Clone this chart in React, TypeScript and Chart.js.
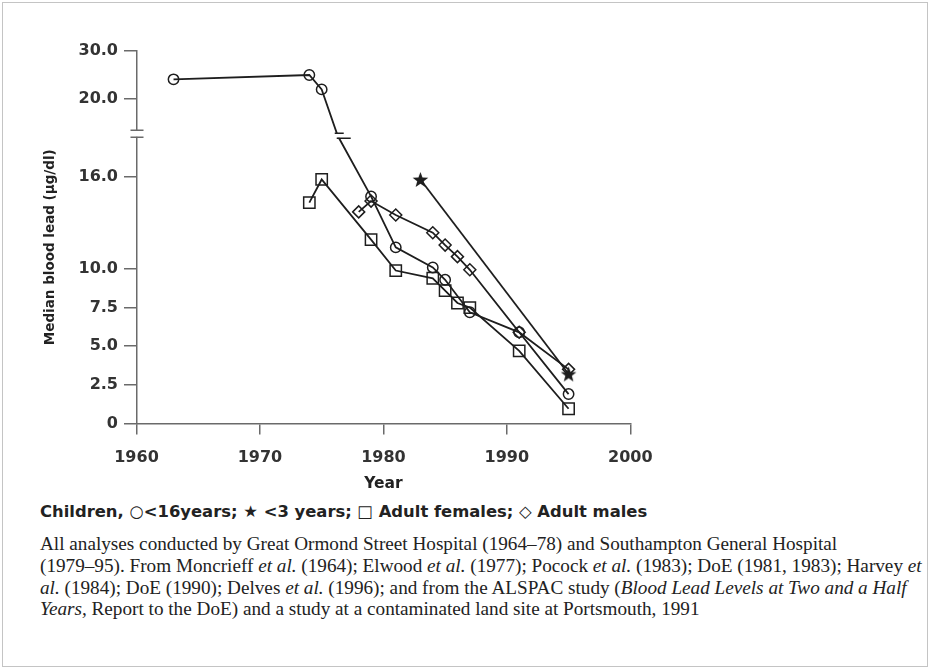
import React, { useEffect, useRef } from "react";
import { Chart, registerables } from "chart.js";

Chart.register(...registerables);

// ---- data (years, median blood lead µg/dl) ----
const childYears = [1963, 1974, 1975, 1979, 1981, 1984, 1985, 1987, 1991, 1995];
const childLevels = [24.1, 25.0, 22.0, 14.7, 11.4, 10.1, 9.3, 7.2, 5.9, 1.9];
const infantYears = [1983, 1995];
const infantLevels = [15.8, 3.2];
const femaleYears = [1974, 1975, 1979, 1981, 1984, 1985, 1986, 1987, 1991, 1995];
const femaleLevels = [14.3, 15.8, 11.9, 9.9, 9.4, 8.6, 7.8, 7.5, 4.7, 0.95];
const maleYears = [1978, 1979, 1981, 1984, 1985, 1986, 1987, 1991, 1995];
const maleLevels = [13.7, 14.4, 13.5, 12.35, 11.55, 10.8, 9.95, 5.9, 3.5];

const yTickValues = [0, 2.5, 5, 7.5, 10, 16, 20, 30];
const yTickLabels = ["0", "2.5", "5.0", "7.5", "10.0", "16.0", "20.0", "30.0"];
const xMin = 1960;
const xMax = 2000;
const xStep = 10;
const childBreakYear = 1976.3;
const yTitle = "Median blood lead (µg/dl)";

// ---- broken y axis mapping (lower part linear, upper part compressed) ----
const LOWER_LIMIT = 18;
const UPPER_ORIGIN = 20;
const UPPER_ORIGIN_POS = 21.01;
const UPPER_RATIO = 0.311;
const AXIS_BREAK_POS = 18.76;
const LINE_BREAK_POS = 18.63;

function toDisplay(v: number) {
  return v <= LOWER_LIMIT ? v : UPPER_ORIGIN_POS + (v - UPPER_ORIGIN) * UPPER_RATIO;
}

const LINE = "#1e1e1e";
const AXIS = "#6a6a6a";
const TICK_FONT = { family: "DejaVu Sans", size: 16, weight: "bold" as const };

function pts(xs: number[], ys: number[]) {
  return xs.map((x, i) => ({ x, y: toDisplay(ys[i]) }));
}

function makeStar(size: number, color: string) {
  const c = document.createElement("canvas");
  c.width = size;
  c.height = size;
  const ctx = c.getContext("2d")!;
  const cx = size / 2;
  const cy = size / 2 + 0.8;
  const R = size / 2 - 0.3;
  const r = R * 0.42;
  ctx.beginPath();
  for (let i = 0; i < 10; i++) {
    const a = -Math.PI / 2 + (i * Math.PI) / 5;
    const rr = i % 2 === 0 ? R : r;
    ctx.lineTo(cx + rr * Math.cos(a), cy + rr * Math.sin(a));
  }
  ctx.closePath();
  ctx.fillStyle = color;
  ctx.fill();
  return c;
}

export default function App() {
  const ref = useRef<HTMLCanvasElement | null>(null);

  useEffect(() => {
    if (!ref.current) return;

    // children series with the break vertex inserted
    const childPts: { x: number; y: number }[] = [];
    const childRadius: number[] = [];
    let breakIndex = -1;
    childYears.forEach((yr, i) => {
      const v = childLevels[i];
      if (i > 0 && childLevels[i - 1] > LOWER_LIMIT && v <= LOWER_LIMIT) {
        breakIndex = childPts.length;
        childPts.push({ x: childBreakYear, y: LINE_BREAK_POS });
        childRadius.push(0);
      }
      childPts.push({ x: yr, y: toDisplay(v) });
      childRadius.push(5.2);
    });

    const star = makeStar(17, LINE);

    const breakPlugin = {
      id: "axisBreaks",
      afterDraw(chart: any) {
        const { ctx, chartArea, scales } = chart;
        const ax = chartArea.left;
        const ay = scales.y.getPixelForValue(AXIS_BREAK_POS);
        ctx.save();
        ctx.fillStyle = "#fff";
        ctx.fillRect(ax - 3, ay - 3, 6, 6);
        ctx.strokeStyle = AXIS;
        ctx.lineWidth = 1.5;
        ctx.beginPath();
        ctx.moveTo(ax - 6, ay - 3.5);
        ctx.lineTo(ax + 7, ay - 3.5);
        ctx.moveTo(ax - 6, ay + 3.5);
        ctx.lineTo(ax + 7, ay + 3.5);
        ctx.stroke();
        if (breakIndex >= 0) {
          const el = chart.getDatasetMeta(0).data[breakIndex];
          const lx = el.x;
          const ly = el.y;
          ctx.fillRect(lx - 5, ly - 2, 10, 4);
          ctx.strokeStyle = LINE;
          ctx.beginPath();
          ctx.moveTo(lx - 3, ly - 2.5);
          ctx.lineTo(lx + 6, ly - 2.5);
          ctx.moveTo(lx - 1, ly + 2.5);
          ctx.lineTo(lx + 13, ly + 2.5);
          ctx.stroke();
        }
        // y axis title
        const cy = (scales.y.getPixelForValue(0) + scales.y.getPixelForValue(toDisplay(30))) / 2 + 10;
        ctx.translate(50, cy);
        ctx.rotate(-Math.PI / 2);
        ctx.fillStyle = "#222";
        ctx.font = "bold 13.5px 'DejaVu Sans'";
        ctx.textAlign = "center";
        ctx.textBaseline = "middle";
        ctx.fillText(yTitle, 0, 0);
        ctx.restore();
      },
    };

    const common = {
      borderColor: LINE,
      borderWidth: 1.8,
      pointBorderColor: LINE,
      pointBackgroundColor: "rgba(0,0,0,0)",
      pointBorderWidth: 1.5,
      tension: 0,
      fill: false,
    };

    const chart = new Chart(ref.current, {
      type: "line",
      data: {
        datasets: [
          {
            ...common,
            label: "<16 years",
            data: childPts,
            pointStyle: "circle",
            pointRadius: childRadius,
          },
          {
            ...common,
            label: "<3 years",
            data: pts(infantYears, infantLevels),
            pointStyle: star as any,
            pointRadius: 8,
          },
          {
            ...common,
            label: "Adult females",
            data: pts(femaleYears, femaleLevels),
            pointStyle: "rect",
            pointRadius: 8,
          },
          {
            ...common,
            label: "Adult males",
            data: pts(maleYears, maleLevels),
            pointStyle: "rectRot",
            pointRadius: 6,
          },
        ],
      },
      options: {
        responsive: false,
        animation: false,
        layout: { padding: { left: 0, top: 51, right: 301.7, bottom: 0 } },
        plugins: { legend: { display: false }, tooltip: { enabled: false } },
        scales: {
          x: {
            type: "linear",
            min: xMin,
            max: xMax,
            afterFit: (s: any) => {
              s.height = 76.6;
            },
            ticks: {
              stepSize: xStep,
              font: TICK_FONT,
              color: "#333",
              padding: 14,
              callback: (v: any) => String(v),
            },
            grid: {
              drawOnChartArea: false,
              drawTicks: true,
              tickLength: 11,
              color: AXIS,
              lineWidth: 1.5,
            },
            border: { display: true, color: AXIS, width: 1.5 },
            title: {
              display: true,
              text: "Year",
              font: { family: "DejaVu Sans", size: 15.5, weight: "bold" },
              color: "#222",
              padding: { top: 0, bottom: 7 },
            },
          },
          y: {
            type: "linear",
            min: 0,
            max: toDisplay(30),
            afterFit: (s: any) => {
              s.width = 136.5;
            },
            afterBuildTicks: (s: any) => {
              s.ticks = yTickValues.map((v) => ({ value: toDisplay(v) }));
            },
            ticks: {
              autoSkip: false,
              font: TICK_FONT,
              color: "#333",
              padding: 6,
              callback: (_v: any, i: number) => yTickLabels[i],
            },
            grid: {
              drawOnChartArea: false,
              drawTicks: true,
              tickLength: 12.5,
              color: AXIS,
              lineWidth: 1.5,
            },
            border: { display: true, color: AXIS, width: 1.5 },
            title: { display: false },
          },
        },
      },
      plugins: [breakPlugin],
    });

    return () => chart.destroy();
  }, []);

  return (
    <div
      style={{
        position: "absolute",
        left: 0,
        top: 0,
        width: 932,
        height: 671,
        background: "#fff",
        overflow: "hidden",
      }}
    >
      <div
        style={{
          position: "absolute",
          left: 2,
          top: 2,
          width: 924,
          height: 663,
          border: "1px solid #c4c4c4",
        }}
      />
      <canvas
        ref={ref}
        width={932}
        height={500}
        style={{ position: "absolute", left: 0, top: 0, display: "block" }}
      />
      <div
        style={{
          position: "absolute",
          left: 40,
          top: 502,
          font: "bold 16.4px 'DejaVu Sans'",
          color: "#222",
          whiteSpace: "nowrap",
        }}
      >
        Children, ○&lt;16years; ★ &lt;3 years; □ Adult females; ◇ Adult males
      </div>
      <div
        style={{
          position: "absolute",
          left: 40,
          top: 533,
          font: "19.2px 'Liberation Serif'",
          lineHeight: "21.8px",
          color: "#222",
          whiteSpace: "nowrap",
        }}
      >
        All analyses conducted by Great Ormond Street Hospital (1964–78) and Southampton General Hospital
        <br />
        (1979–95). From Moncrieff <i>et al.</i> (1964); Elwood <i>et al.</i> (1977); Pocock <i>et al.</i> (1983); DoE
        (1981, 1983); Harvey <i>et</i>
        <br />
        <i>al.</i> (1984); DoE (1990); Delves <i>et al.</i> (1996); and from the ALSPAC study (
        <i>Blood Lead Levels at Two and a Half</i>
        <br />
        <i>Years,</i> Report to the DoE) and a study at a contaminated land site at Portsmouth, 1991
      </div>
    </div>
  );
}
